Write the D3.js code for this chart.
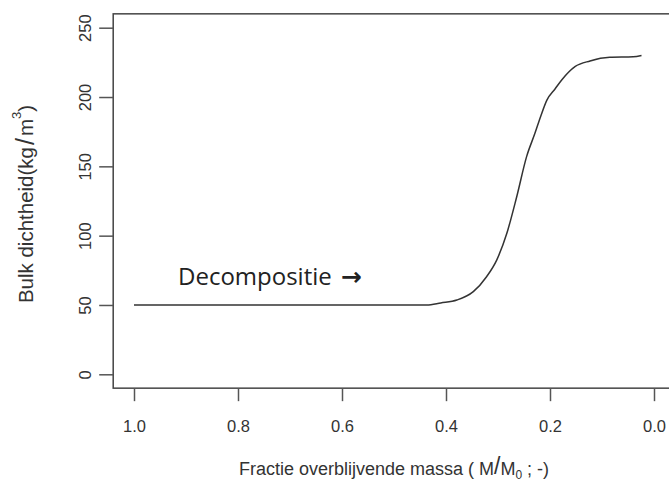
<!DOCTYPE html>
<html>
<head>
<meta charset="utf-8">
<script src="https://cdn.jsdelivr.net/npm/d3@7"></script>
<style>
  html, body { margin: 0; padding: 0; background: #fff; }
  svg { display: block; }
</style>
</head>
<body>
<svg id="chart" width="669" height="481"></svg>
<script>
// Remaining mass fraction (M/M0) and bulk density (kg/m3)
const fraction = [1.0, 0.9, 0.8, 0.7, 0.6, 0.5, 0.437, 0.41, 0.379, 0.3475, 0.322, 0.3025,
  0.283, 0.264, 0.245, 0.229, 0.218, 0.206, 0.19, 0.1775, 0.152, 0.123, 0.085, 0.04, 0.024];
const density = [50, 50, 50, 50, 50, 50, 50, 51.5, 53.6, 59.6, 70.4, 82.4,
  101.7, 128.1, 157, 173.8, 186, 197.8, 206, 212.3, 221.9, 226, 228.6, 229, 230];

const xTicks = [1.0, 0.8, 0.6, 0.4, 0.2, 0.0];
const yTicks = [0, 50, 100, 150, 200, 250];
const annotationText = "Decompositie";
const annotationArrow = "\u2192";

const svg = d3.select("#chart");
const ink = "#333";

// x runs from 1 (left) to 0 (right)
const x = d3.scaleLinear().domain([1, 0]).range([134, 654]);
const y = d3.scaleLinear().domain([0, 250]).range([374.3, 27.7]);

// plot frame (4% padding around the data range, right side runs off the page)
const pad = 0.04;
const fx0 = x(1 + pad), fx1 = x(0 - pad);
const fy0 = y(250 + 250 * pad), fy1 = y(0 - 250 * pad);
svg.append("rect")
  .attr("x", fx0).attr("y", fy0)
  .attr("width", fx1 - fx0).attr("height", fy1 - fy0)
  .attr("fill", "none").attr("stroke", "#444").attr("stroke-width", 1.5);

const axisFont = "'Liberation Sans', Arial, sans-serif";

// x axis
const xAxis = svg.append("g")
  .attr("transform", `translate(0,${fy1})`)
  .call(d3.axisBottom(x).tickValues(xTicks).tickSize(13).tickPadding(19)
    .tickFormat(d3.format(".1f")));
xAxis.select(".domain").remove();
xAxis.selectAll(".tick line").attr("stroke", "#555").attr("stroke-width", 1.5);
xAxis.selectAll(".tick text")
  .attr("fill", ink).style("font-family", axisFont).style("font-size", "16.5px");

// y axis with rotated labels
const yAxis = svg.append("g")
  .attr("transform", `translate(${fx0},0)`)
  .call(d3.axisLeft(y).tickValues(yTicks).tickSize(14).tickFormat(d3.format("d")));
yAxis.select(".domain").remove();
yAxis.selectAll(".tick line").attr("stroke", "#555").attr("stroke-width", 1.5);
yAxis.selectAll(".tick text")
  .attr("x", null).attr("dy", null)
  .attr("text-anchor", "middle")
  .attr("transform", "translate(-28,0) rotate(-90)")
  .attr("y", 0)
  .attr("dominant-baseline", "central")
  .attr("fill", ink).style("font-family", axisFont).style("font-size", "16.5px");

// axis titles
const xt = svg.append("text")
  .attr("x", (fx0 + fx1) / 2).attr("y", 475)
  .attr("text-anchor", "middle")
  .attr("fill", ink).style("font-family", axisFont).style("font-size", "18px");
xt.append("tspan").text("Fractie overblijvende massa ( M");
xt.append("tspan").attr("font-size", "23px").attr("dy", -1).text("/");
xt.append("tspan").attr("dy", 1).text("M");
xt.append("tspan").attr("font-size", "12px").attr("dy", 4).text("0");
xt.append("tspan").attr("dy", -4).text(" ; -)");

const yt = svg.append("text")
  .attr("transform", `translate(25,${(fy0 + fy1) / 2 + 3}) rotate(-90)`)
  .attr("text-anchor", "middle")
  .attr("dominant-baseline", "central")
  .attr("fill", ink).style("font-family", axisFont).style("font-size", "20.5px");
yt.append("tspan").text("Bulk dichtheid(kg");
yt.append("tspan").attr("font-size", "25px").attr("dx", 2).text("/");
yt.append("tspan").attr("dx", 2).text("m");
yt.append("tspan").attr("font-size", "13px").attr("dy", -9).text("3");
yt.append("tspan").attr("dy", 9).text(")");

// density curve
const pts = fraction.map((f, i) => [f, density[i]]);
svg.append("path")
  .datum(pts)
  .attr("fill", "none")
  .attr("stroke", "#333")
  .attr("stroke-width", 1.5)
  .attr("stroke-linejoin", "round")
  .attr("d", d3.line().x(d => x(d[0])).y(d => y(d[1])).curve(d3.curveMonotoneX));

// annotation
const ann = svg.append("text")
  .attr("x", 178).attr("y", 285)
  .attr("fill", "#222")
  .style("font-family", "'Open Sans', 'DejaVu Sans', sans-serif")
  .style("font-size", "24px");
ann.append("tspan").text(annotationText);
ann.append("tspan")
  .attr("dx", 9)
  .style("font-family", "'DejaVu Sans', sans-serif")
  .style("font-weight", "bold")
  .style("font-size", "25px")
  .text(annotationArrow);
</script>
</body>
</html>
